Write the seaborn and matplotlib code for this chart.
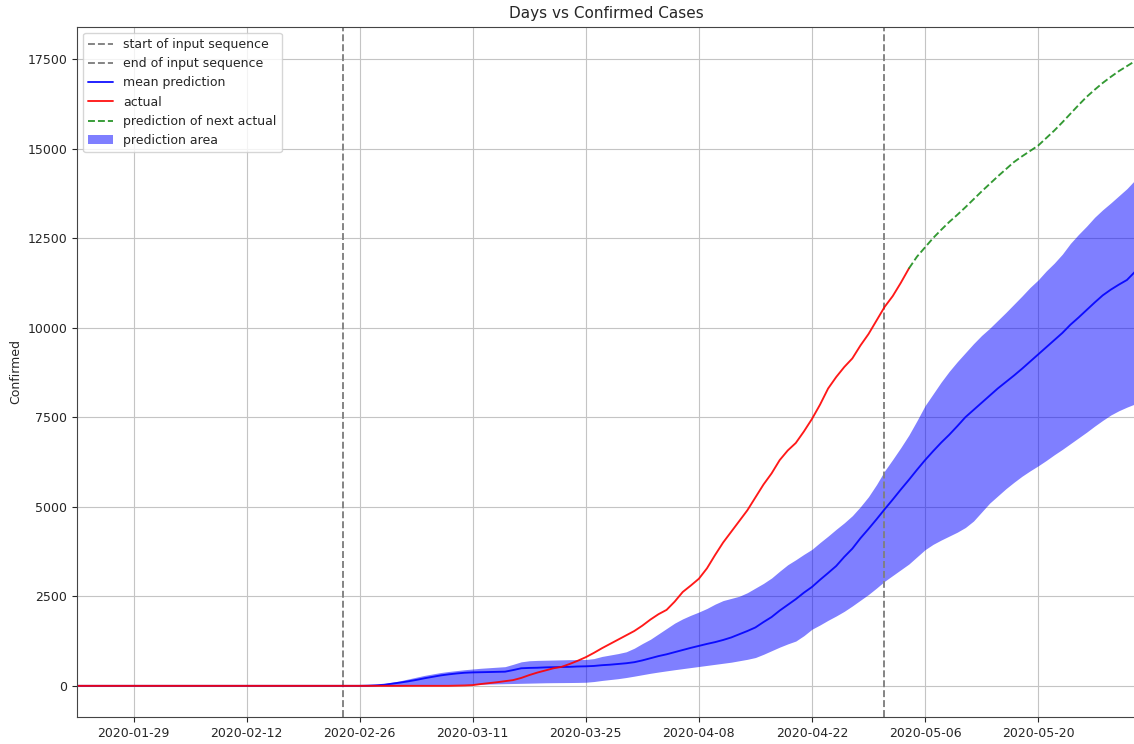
import pandas as pd
import matplotlib
matplotlib.use("Agg")
import matplotlib.pyplot as plt
import matplotlib.dates as mdates
import seaborn as sns

# daily series, day 0 = 2020-01-22
start_date = "2020-01-22"
n_days = 132

actual = [0] * 47 + [
    5, 10, 20, 50, 75, 100, 130, 160, 220, 300,
    370, 430, 490, 530, 610, 700, 800, 920, 1050, 1170,
    1290, 1410, 1530, 1680, 1850, 2000, 2120, 2350, 2620, 2800,
    2990, 3280, 3650, 4000, 4300, 4600, 4900, 5260, 5620, 5930,
    6300, 6570, 6780, 7100, 7450, 7850, 8300, 8620, 8900, 9140,
    9500, 9820, 10200, 10580, 10880, 11250, 11650,
]

next_actual = [
    11650, 11980, 12240, 12500, 12730, 12950, 13150, 13360, 13580, 13800,
    14010, 14220, 14420, 14620, 14780, 14930, 15080, 15290, 15500, 15730,
    15970, 16210, 16440, 16640, 16830, 17000, 17160, 17300, 17440,
]

mean_pred = [0] * 36 + [
    5, 15, 30, 60, 90, 125, 165, 210, 250, 290,
    320, 345, 365, 375, 380, 385, 390, 395, 440, 490,
    500, 505, 515, 520, 525, 530, 540, 545, 555, 576,
    590, 610, 630, 660, 710, 770, 830, 880, 940, 1000,
    1060, 1115, 1170, 1220, 1280, 1350, 1440, 1530, 1630, 1780,
    1920, 2100, 2260, 2420, 2600, 2760, 2960, 3150, 3345, 3600,
    3830, 4120, 4380, 4650, 4930, 5200, 5480, 5750, 6030, 6300,
    6550, 6790, 7010, 7250, 7500, 7700, 7900, 8100, 8300, 8480,
    8660, 8850, 9050, 9250, 9450, 9650, 9850, 10080, 10280, 10490,
    10700, 10900, 11060, 11200, 11330, 11560,
]

upper = [0] * 36 + [
    10, 30, 60, 100, 140, 190, 240, 290, 330, 370,
    400, 425, 450, 470, 490, 505, 520, 535, 600, 670,
    700, 710, 715, 720, 725, 730, 733, 735, 760, 820,
    860, 900, 950, 1050, 1180, 1300, 1450, 1600, 1750, 1870,
    1970, 2060, 2160, 2280, 2380, 2440, 2500, 2600, 2730, 2860,
    3010, 3200, 3380, 3520, 3670, 3810, 4000, 4180, 4370, 4550,
    4750, 5000, 5280, 5620, 6000, 6320, 6650, 7000, 7400, 7820,
    8150, 8480, 8780, 9050, 9300, 9550, 9780, 9980, 10200, 10420,
    10650, 10880, 11120, 11330, 11580, 11800, 12050, 12350, 12600, 12830,
    13080, 13290, 13480, 13680, 13880, 14120,
]

lower = [0] * 41 + [
    5, 8, 10, 15, 20, 25, 30, 35, 40, 45,
    50, 55, 60, 65, 70, 75, 80, 85, 88, 90,
    92, 95, 100, 120, 150, 175, 200, 232, 270, 310,
    350, 385, 418, 450, 480, 510, 540, 570, 600, 630,
    660, 700, 740, 790, 880, 980, 1080, 1170, 1250, 1400,
    1580, 1700, 1830, 1950, 2080, 2230, 2390, 2550, 2730, 2920,
    3080, 3240, 3400, 3600, 3800, 3950, 4070, 4180, 4290, 4420,
    4600, 4850, 5100, 5300, 5500, 5680, 5850, 6000, 6140, 6290,
    6450, 6600, 6760, 6920, 7080, 7250, 7410, 7560, 7680, 7780,
    7870,
]

input_start = "2020-02-23 22:00"
input_end = "2020-04-30 22:00"
tick_dates = ["2020-01-29", "2020-02-12", "2020-02-26", "2020-03-11", "2020-03-25",
              "2020-04-08", "2020-04-22", "2020-05-06", "2020-05-20"]

dates = pd.date_range(start_date, periods=n_days)
df_pred = pd.DataFrame({"date": dates, "mean": mean_pred, "upper": upper, "lower": lower})
df_actual = pd.DataFrame({"date": dates[:len(actual)], "Confirmed": actual})
df_next = pd.DataFrame({"date": dates[len(actual) - 1:], "Confirmed": next_actual})

sns.set_style("ticks")
plt.rcParams["font.size"] = 9
fig = plt.figure(figsize=(11.34, 7.44), dpi=100)
ax = fig.add_axes([0.0679, 0.0363, 0.933, 0.9278])

lw = 1.35
ax.axvline(pd.Timestamp(input_start), color="gray", ls="--", lw=lw, label="start of input sequence")
ax.axvline(pd.Timestamp(input_end), color="gray", ls="--", lw=lw, label="end of input sequence")
sns.lineplot(data=df_pred, x="date", y="mean", color="blue", alpha=0.9, lw=lw,
             label="mean prediction", ax=ax)
sns.lineplot(data=df_actual, x="date", y="Confirmed", color="red", alpha=0.9, lw=lw,
             label="actual", ax=ax)
sns.lineplot(data=df_next, x="date", y="Confirmed", color="green", alpha=0.8, lw=lw, ls="--",
             label="prediction of next actual", ax=ax)
ax.fill_between(df_pred["date"], df_pred["lower"], df_pred["upper"], color="blue", alpha=0.5,
                lw=0, label="prediction area")

ax.set_xlim(dates[0], dates[-1])
ax.set_ylim(-870, 18400)
ax.set_xticks(pd.to_datetime(tick_dates))
ax.xaxis.set_major_formatter(mdates.DateFormatter("%Y-%m-%d"))
ax.set_yticks([0, 2500, 5000, 7500, 10000, 12500, 15000, 17500])
ax.tick_params(labelsize=9)
ax.grid(True, color="#c4c4c4", lw=0.8)
for s in ax.spines.values():
    s.set_color("#444444")
ax.set_xlabel("")
ax.set_ylabel("Confirmed", fontsize=9)
ax.set_title("Days vs Confirmed Cases", fontsize=11)
ax.legend(loc="upper left", fontsize=9)

fig.savefig("out.png", dpi=100)
